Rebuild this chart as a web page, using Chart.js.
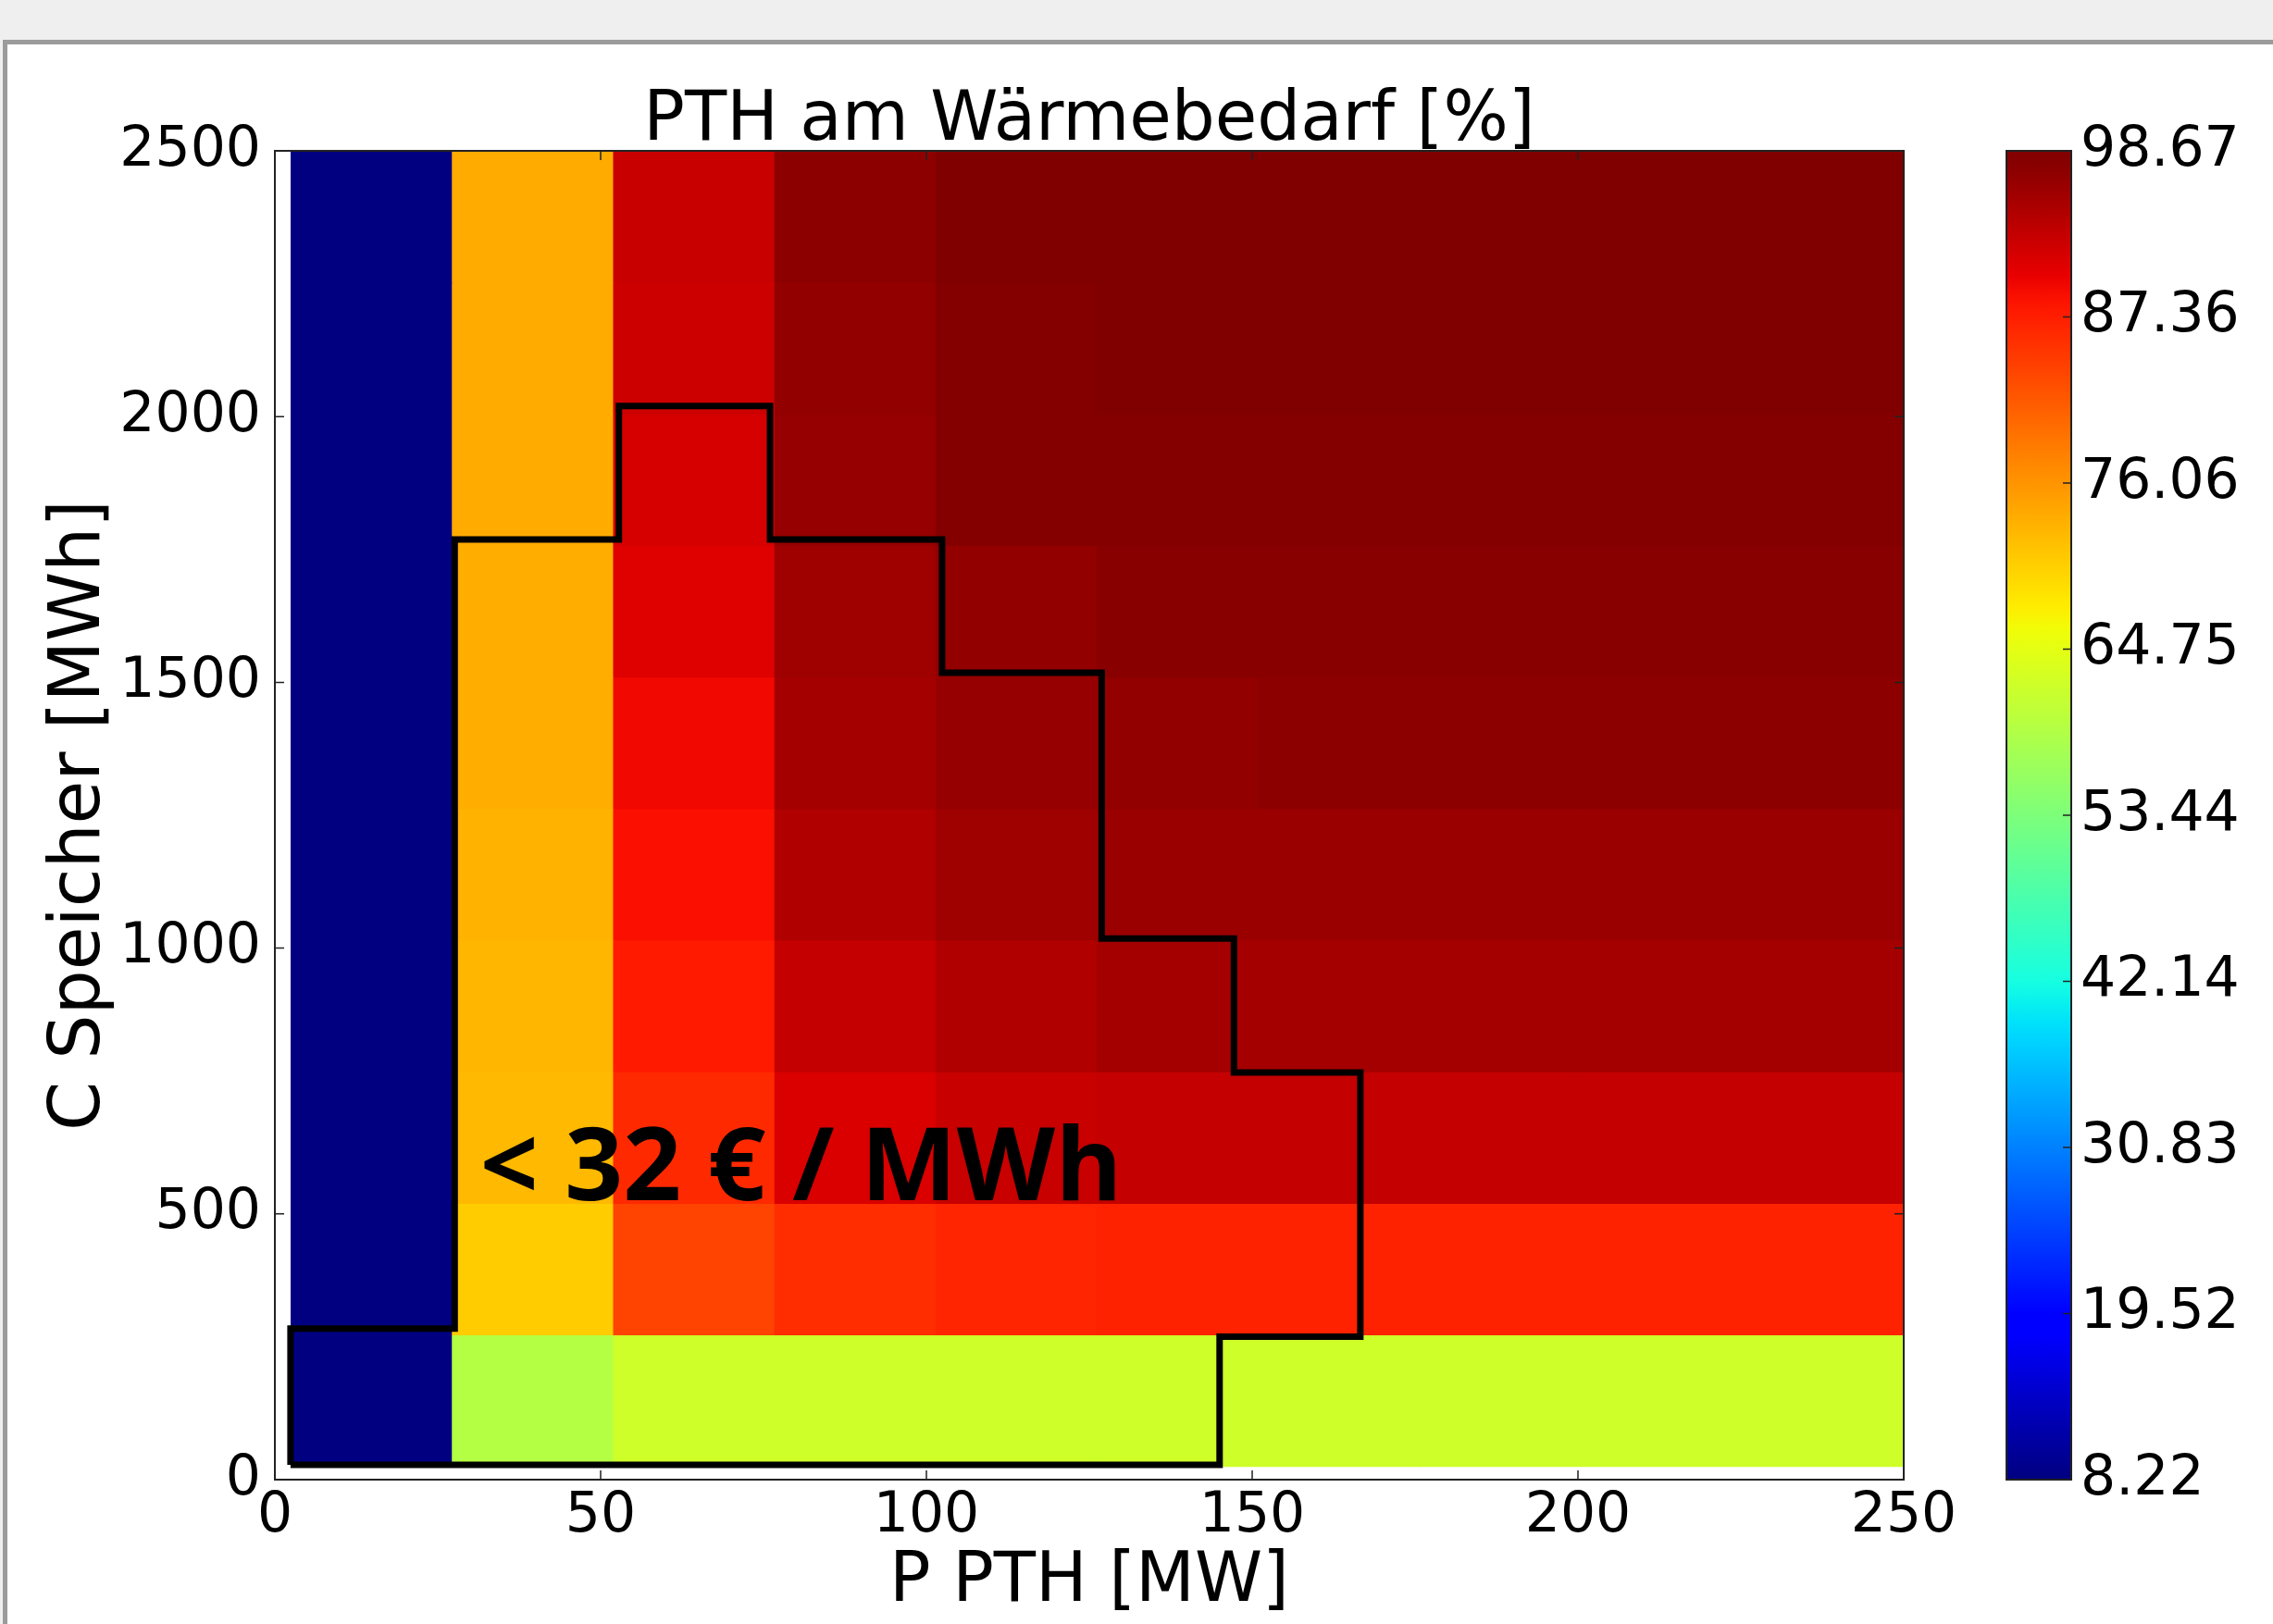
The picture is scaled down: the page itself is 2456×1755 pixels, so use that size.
<!DOCTYPE html>
<html>
<head>
<meta charset="utf-8">
<script src="https://cdn.jsdelivr.net/npm/chart.js@4.4.0/dist/chart.umd.min.js"></script>
<style>
html,body{margin:0;padding:0;background:#efefef;}
body{width:2456px;height:1755px;position:relative;overflow:hidden;}
#panel{position:absolute;left:3px;top:43px;width:2460px;height:1720px;background:#fff;border-top:5px solid #9b9b9b;border-left:5px solid #9b9b9b;}
#main{position:absolute;left:0;top:0;width:2140px;height:1755px;}
#cbar{position:absolute;left:2140px;top:0;width:316px;height:1755px;}
</style>
</head>
<body>
<div id="panel"></div>
<div id="main"><canvas id="heat"></canvas></div>
<div id="cbar"><canvas id="bar"></canvas></div>
<script>
// Zellgrenzen
const pEdges = [2.5, 27.25, 52, 76.75, 101.5, 126.25, 151, 175.75, 200.5, 225.25, 250];   // P PTH [MW]
const cEdges = [25, 272.5, 520, 767.5, 1015, 1262.5, 1510, 1757.5, 2005, 2252.5, 2500];   // C Speicher [MWh]

// PTH am Waermebedarf [%], eine Zeile je Speicherstufe (unten -> oben)
const anteil = [
  [8.22, 59.56, 62.63, 62.63, 62.63, 62.63, 62.63, 62.63, 62.63, 62.63],
  [8.22, 71.0, 84.0, 86.1, 86.7, 87.1, 87.1, 87.1, 87.1, 87.1],
  [8.22, 72.6, 86.5, 91.6, 92.7, 93.2, 93.2, 93.2, 93.2, 93.2],
  [8.22, 73.0, 88.0, 93.3, 94.6, 95.5, 95.5, 95.5, 95.5, 95.5],
  [8.22, 73.3, 88.9, 94.6, 96.0, 96.2, 96.2, 96.2, 96.2, 96.2],
  [8.22, 73.7, 89.6, 95.5, 96.7, 97.1, 97.5, 97.5, 97.5, 97.5],
  [8.22, 73.8, 91.1, 96.1, 97.2, 97.85, 97.85, 97.85, 97.85, 97.85],
  [8.22, 74.1, 91.8, 96.6, 98.0, 98.1, 98.1, 98.1, 98.1, 98.1],
  [8.22, 74.25, 92.5, 97.0, 98.25, 98.45, 98.45, 98.45, 98.45, 98.45],
  [8.22, 74.25, 92.7, 97.6, 98.67, 98.67, 98.67, 98.67, 98.67, 98.67]
];

// Kontur < 32 EUR/MWh
const konturP = [2.4, 2.4, 27.6, 27.6, 52.8, 52.8, 76.0, 76.0, 102.4, 102.4, 126.9, 126.9, 147.2, 147.2, 166.6, 166.6, 145.0, 145.0, 2.4];
const konturC = [28, 284, 284, 1769, 1769, 2020, 2020, 1769, 1769, 1518, 1518, 1018, 1018, 766, 766, 269, 269, 28, 28];

const xTicks = [0, 50, 100, 150, 200, 250];
const yTicks = [0, 500, 1000, 1500, 2000, 2500];
const cbTicks = [8.22, 19.52, 30.83, 42.14, 53.44, 64.75, 76.06, 87.36, 98.67];
const vmin = 8.22, vmax = 98.67;

const annoText = '< 32 € / MWh', annoP = 31.5, annoC = 526;

// jet wie in matplotlib
const JET = {
  r: [[0,0],[0.35,0],[0.66,1],[0.89,1],[1,0.5]],
  g: [[0,0],[0.125,0],[0.375,1],[0.64,1],[0.91,0],[1,0]],
  b: [[0,0.5],[0.11,1],[0.34,1],[0.65,0],[1,0]]
};
function seg(s, t){ for(let i=1;i<s.length;i++){ if(t<=s[i][0]){ const [x0,y0]=s[i-1],[x1,y1]=s[i]; return y0+(y1-y0)*(t-x0)/(x1-x0);} } return s[s.length-1][1]; }
function jet(t){
  t = Math.min(1, Math.max(0, t));
  t = Math.min(255, Math.floor(t*256))/255;
  return `rgb(${Math.round(seg(JET.r,t)*255)},${Math.round(seg(JET.g,t)*255)},${Math.round(seg(JET.b,t)*255)})`;
}

const FONT = 'DejaVu Sans';
const zellen = [], farben = [];
anteil.forEach((row, r) => row.forEach((v, c) => {
  zellen.push({ x: (pEdges[c]+pEdges[c+1])/2, y: [cEdges[r], cEdges[r+1]] });
  farben.push(jet((v-vmin)/(vmax-vmin)));
}));

const rahmen = {
  id: 'rahmen',
  afterDatasetsDraw(chart) {
    const {ctx, chartArea:a, scales:{x, y}} = chart;
    ctx.save();
    ctx.strokeStyle = '#222'; ctx.lineWidth = 1.5;
    ctx.beginPath();
    xTicks.forEach(v => { const px = x.getPixelForValue(v);
      ctx.moveTo(px, a.bottom); ctx.lineTo(px, a.bottom-10); ctx.moveTo(px, a.top); ctx.lineTo(px, a.top+10); });
    yTicks.forEach(v => { const py = y.getPixelForValue(v);
      ctx.moveTo(a.left, py); ctx.lineTo(a.left+10, py); ctx.moveTo(a.right, py); ctx.lineTo(a.right-10, py); });
    ctx.stroke();
    ctx.lineWidth = 2;
    ctx.strokeRect(a.left, a.top, a.right-a.left, a.bottom-a.top);
    // Titel
    ctx.fillStyle = '#000';
    ctx.font = `74px "${FONT}"`;
    ctx.textAlign = 'center'; ctx.textBaseline = 'alphabetic';
    ctx.fillText('PTH am Wärmebedarf [%]', (a.left+a.right)/2, a.top-12);
    // Beschriftung Kontur
    ctx.font = 'bold 110px "Open Sans"';
    ctx.textAlign = 'left';
    ctx.fillText(annoText, x.getPixelForValue(annoP), y.getPixelForValue(annoC));
    ctx.restore();
  }
};

new Chart(document.getElementById('heat'), {
  type: 'bar',
  data: {
    datasets: [
      { type: 'line', data: konturP.map((p, i) => ({x: p, y: konturC[i]})), borderColor: '#000', borderWidth: 7,
        pointRadius: 0, fill: false, tension: 0, borderJoinStyle: 'miter', order: 0 },
      { type: 'bar', data: zellen, backgroundColor: farben, borderWidth: 0, barPercentage: 1, categoryPercentage: 1,
        inflateAmount: 0.6, order: 1 }
    ]
  },
  options: {
    responsive: true, maintainAspectRatio: false, animation: false, events: [],
    layout: { padding: { top: 163, right: 83, bottom: 0, left: 0 } },
    plugins: { legend: { display: false }, tooltip: { enabled: false } },
    scales: {
      x: { type: 'linear', min: 0, max: 250, offset: false,
        ticks: { stepSize: 50, padding: 4, color: '#000', font: { family: FONT, size: 60 }, callback: v => String(v) },
        grid: { display: false, drawTicks: false }, border: { display: false },
        title: { display: true, text: 'P PTH [MW]', color: '#000', font: { family: FONT, size: 74 }, padding: { top: 0, bottom: 0 } },
        afterFit(s) { s.height = 156; } },
      y: { type: 'linear', min: 0, max: 2500,
        ticks: { stepSize: 500, padding: 15, color: '#000', font: { family: FONT, size: 60 }, callback: v => String(v) },
        grid: { display: false, drawTicks: false }, border: { display: false },
        title: { display: true, text: 'C Speicher [MWh]', color: '#000', font: { family: FONT, size: 76 }, padding: { top: 42, bottom: 0 } },
        afterFit(s) { s.width = 297; } }
    }
  },
  plugins: [rahmen]
});

const cbRahmen = {
  id: 'cbRahmen',
  afterDatasetsDraw(chart) {
    const {ctx, chartArea:a, scales:{y}} = chart;
    ctx.save();
    ctx.strokeStyle = '#222'; ctx.lineWidth = 1.5;
    ctx.beginPath();
    cbTicks.forEach(v => { const py = y.getPixelForValue(v); ctx.moveTo(a.right, py); ctx.lineTo(a.right-9, py); });
    ctx.stroke();
    ctx.lineWidth = 2;
    ctx.strokeRect(a.left, a.top, a.right-a.left, a.bottom-a.top);
    ctx.restore();
  }
};

new Chart(document.getElementById('bar'), {
  type: 'bar',
  data: {
    labels: [''],
    datasets: [{
      data: [[vmin, vmax]], borderWidth: 0, barPercentage: 1, categoryPercentage: 1,
      backgroundColor(c) {
        const a = c.chart.chartArea;
        if (!a) return '#000';
        const g = c.chart.ctx.createLinearGradient(0, a.bottom, 0, a.top);
        for (let i = 0; i <= 64; i++) g.addColorStop(i/64, jet(i/64));
        return g;
      }
    }]
  },
  options: {
    responsive: true, maintainAspectRatio: false, animation: false, events: [],
    layout: { padding: { top: 163, right: 0, bottom: 156, left: 28 } },
    plugins: { legend: { display: false }, tooltip: { enabled: false } },
    scales: {
      x: { display: false },
      y: { position: 'right', min: vmin, max: vmax,
        afterBuildTicks(s) { s.ticks = cbTicks.map(v => ({ value: v })); },
        ticks: { padding: 10, color: '#000', font: { family: FONT, size: 60 }, callback: v => v.toFixed(2) },
        grid: { display: false, drawTicks: false }, border: { display: false },
        afterFit(s) { s.width = 218; } }
    }
  },
  plugins: [cbRahmen]
});
</script>
</body>
</html>
